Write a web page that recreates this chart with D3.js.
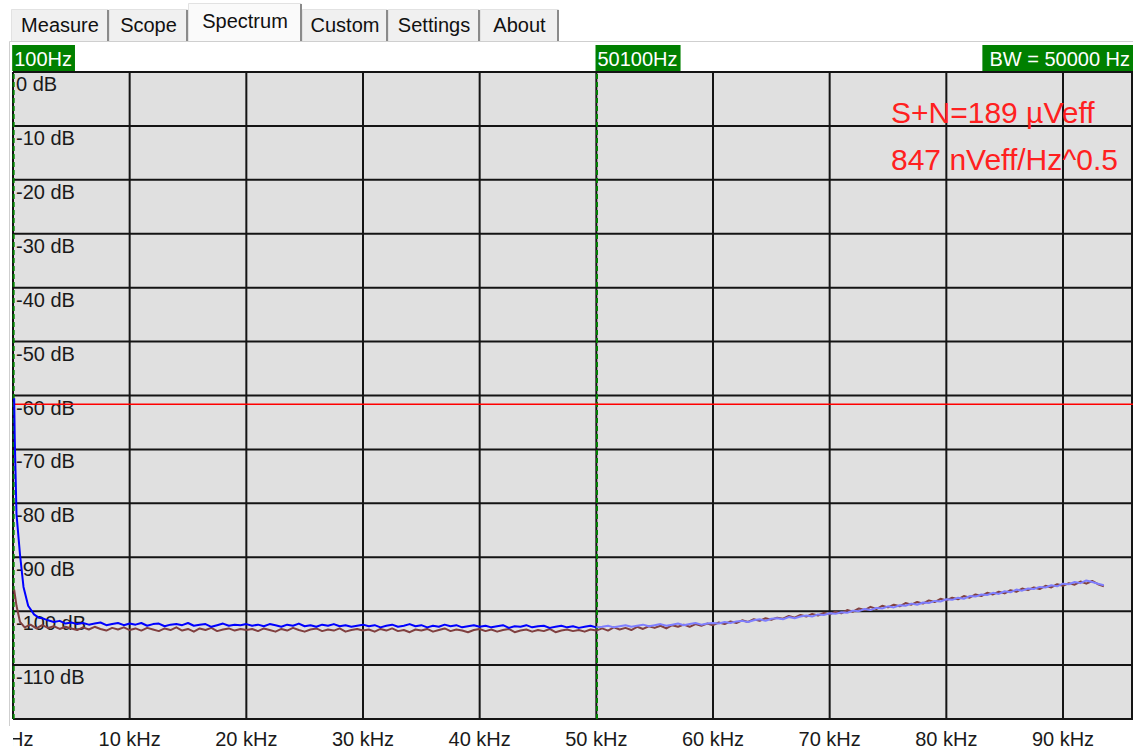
<!DOCTYPE html>
<html>
<head>
<meta charset="utf-8">
<script src="https://cdn.jsdelivr.net/npm/d3@7"></script>
<style>
  html, body { margin: 0; padding: 0; background: #fff; }
  svg { display: block; font-family: "Liberation Sans", Arial, sans-serif; }
</style>
</head>
<body>
<div id="chart"></div>
<script>
'use strict';

// tabs of the analyser window
const tabNames = ['Measure', 'Scope', 'Spectrum', 'Custom', 'Settings', 'About'];
const activeTab = 'Spectrum';

// axes
const xTickKHz = [0, 10, 20, 30, 40, 50, 60, 70, 80, 90];
const xTickLabels = ['0 Hz', '10 kHz', '20 kHz', '30 kHz', '40 kHz', '50 kHz', '60 kHz', '70 kHz', '80 kHz', '90 kHz'];
const yTickDb = [0, -10, -20, -30, -40, -50, -60, -70, -80, -90, -100, -110];

// cursors / readouts
const cursorHz = [100, 50100];
const cursorLabels = ['100Hz', '50100Hz'];
const bandwidthLabel = 'BW = 50000 Hz';
const refLevelDb = -61.6;
const readouts = ['S+N=189 \u00b5Veff', '847 nVeff/Hz^0.5'];

// low-frequency start of each trace (kHz, dB)
const blueHeadKHz = [0.1, 0.15, 0.3, 0.6, 0.9, 1.3, 1.8, 2.2];
const blueHeadDb = [-60.5, -68, -82, -89.5, -95.5, -99, -100.6, -101.2];
const brownHeadKHz = [0.1, 0.3, 0.6, 1.0, 1.5, 2.0];
const brownHeadDb = [-96, -99, -102, -103, -102.5, -103.2];

// spectrum bins from 2.5 kHz, every 0.5 kHz, up to 93.5 kHz
const binStartKHz = 2.5, binStepKHz = 0.5;
const blueDb = [
  -101.3,-101.7,-102.0,-101.8,-102.3,-102.1,-102.4,-102.2,-102.5,-102.3,-102.1,-102.6,-102.4,-102.2,-102.6,-102.3,
  -102.5,-102.2,-102.7,-102.4,-102.3,-102.8,-102.5,-102.4,-102.6,-102.2,-102.7,-102.5,-102.4,-102.9,-102.6,-102.3,-102.7,-102.5,-102.6,-102.4,
  -102.7,-102.5,-102.8,-102.4,-102.6,-102.9,-102.5,-102.7,-102.3,-102.8,-102.6,-102.9,-102.5,-102.7,-102.4,-102.8,-102.6,-102.9,-102.7,-102.5,
  -102.8,-102.6,-103.0,-102.7,-102.5,-102.9,-102.7,-102.4,-102.8,-102.6,-103.0,-102.7,-102.9,-102.5,-102.8,-102.6,-103.0,-102.8,-102.6,-102.9,
  -102.7,-103.0,-102.8,-102.6,-103.1,-102.8,-102.9,-102.6,-103.0,-102.8,-102.7,-103.1,-102.9,-102.7,-103.0,-102.8,-103.1,-102.9,-102.7,-103.0,
  -102.9,-102.7,-103.0,-102.8,-102.6,-102.9,-102.7,-102.5,-102.8,-102.6,-102.4,-102.7,-102.5,-102.3,-102.6,-102.4,-102.2,-102.5,-102.3,-102.2,
  -102.3,-102.0,-102.2,-101.9,-101.8,-102.0,-101.7,-101.5,-101.8,-101.4,-101.3,-101.5,-101.1,-101.3,-101.0,-100.8,-101.0,-100.6,-100.7,-100.4,
  -100.5,-100.2,-100.3,-99.9,-100.0,-99.6,-99.8,-99.4,-99.5,-99.1,-99.3,-98.9,-99.0,-98.6,-98.8,-98.4,-98.5,-98.1,-98.2,-97.8,
  -97.9,-97.5,-97.7,-97.2,-97.3,-96.9,-97.0,-96.6,-96.8,-96.3,-96.5,-96.0,-96.2,-95.8,-95.9,-95.5,-95.6,-95.2,-95.4,-94.9,
  -95.0,-94.6,-94.8,-94.3,-94.6,-94.9,-95.2
];
const brownDb = [
  -102.6,-103.1,-102.8,-103.3,-102.9,-103.2,-103.5,-103.0,-103.4,-102.9,-103.3,-103.6,-103.1,-103.4,-103.0,-103.5,
  -103.2,-103.6,-103.1,-103.4,-103.7,-103.2,-103.5,-103.0,-103.6,-103.3,-103.8,-103.2,-103.5,-103.1,-103.7,-103.4,-103.2,-103.6,-103.3,-103.5,
  -103.3,-103.7,-103.2,-103.5,-103.8,-103.3,-103.6,-103.1,-103.5,-103.8,-103.4,-103.2,-103.7,-103.4,-103.6,-103.2,-103.8,-103.5,-103.3,-103.6,
  -103.4,-103.8,-103.3,-103.6,-103.2,-103.7,-103.5,-103.9,-103.4,-103.6,-103.3,-103.8,-103.5,-103.2,-103.7,-103.4,-103.6,-103.9,-103.5,-103.3,
  -103.7,-103.4,-103.8,-103.5,-103.3,-103.9,-103.6,-103.4,-103.8,-103.5,-103.7,-103.3,-103.9,-103.6,-103.4,-103.7,-103.5,-103.8,-103.4,-103.6,
  -103.2,-103.6,-103.0,-103.4,-103.1,-103.5,-102.9,-103.3,-102.8,-103.1,-102.7,-103.2,-102.6,-102.9,-102.5,-102.9,-102.4,-102.7,-102.3,-102.6,
  -102.1,-102.4,-101.9,-102.2,-101.7,-102.0,-101.5,-101.8,-101.3,-101.6,-101.2,-101.4,-100.9,-101.2,-100.7,-101.0,-100.5,-100.8,-100.3,-100.6,
  -100.1,-100.4,-99.8,-100.1,-99.5,-99.8,-99.2,-99.6,-99.0,-99.3,-98.8,-99.1,-98.5,-98.8,-98.3,-98.6,-98.0,-98.3,-97.7,-98.0,
  -97.5,-97.8,-97.2,-97.5,-96.9,-97.2,-96.6,-96.9,-96.4,-96.7,-96.1,-96.4,-95.8,-96.1,-95.6,-95.9,-95.3,-95.6,-95.0,-95.3,
  -94.8,-95.1,-94.5,-94.9,-94.4,-95.0,-95.4
];

const width = 1133, height = 751;
const plot = {left: 13, right: 1133, top: 72, bottom: 719};

const svg = d3.select('#chart').append('svg')
  .attr('width', width)
  .attr('height', height)
  .attr('viewBox', '0 0 ' + width + ' ' + height);

// ---- tab strip ----
const tabBoxes = [[11, 109], [109, 188], [188, 302], [302, 388], [388, 480], [480, 559]];
const tabs = svg.append('g');
tabNames.forEach((name, i) => {
  const sel = name === activeTab;
  const x0 = tabBoxes[i][0], x1 = tabBoxes[i][1];
  const y0 = sel ? 3 : 9;
  tabs.append('rect')
    .attr('x', x0).attr('y', y0).attr('width', x1 - x0).attr('height', 41 - y0)
    .attr('fill', sel ? '#fafafa' : '#f0f0f0');
  tabs.append('path')
    .attr('d', 'M' + (x0 + 0.5) + ',41V' + (y0 + 0.5) + 'H' + (x1 - 1))
    .attr('fill', 'none').attr('stroke', '#e2e2e2');
  tabs.append('line')
    .attr('x1', x1 - 1).attr('x2', x1 - 1).attr('y1', y0 + 1).attr('y2', 41)
    .attr('stroke', '#8a8a8a').attr('stroke-width', 2);
  tabs.append('text')
    .attr('x', (x0 + x1) / 2).attr('y', sel ? 28 : 32)
    .attr('text-anchor', 'middle')
    .attr('font-size', 20).attr('fill', '#111')
    .text(name);
});

// panel border
svg.append('path')
  .attr('d', 'M9.5,726V41.5H1133')
  .attr('fill', 'none').attr('stroke', '#cfcfcf');

// ---- scales ----
const x = d3.scaleLinear().domain([0, 96000]).range([plot.left, plot.right]);
const y = d3.scaleLinear().domain([0, -120]).range([plot.top, plot.bottom]);

svg.append('defs').append('clipPath').attr('id', 'clip')
  .append('rect')
  .attr('x', plot.left).attr('y', plot.top)
  .attr('width', plot.right - plot.left).attr('height', plot.bottom - plot.top);

svg.append('defs').append('clipPath').attr('id', 'clipX')
  .append('rect')
  .attr('x', plot.left).attr('y', plot.bottom)
  .attr('width', width - plot.left).attr('height', height - plot.bottom);

// plot background
svg.append('rect')
  .attr('x', plot.left).attr('y', plot.top)
  .attr('width', plot.right - plot.left).attr('height', plot.bottom - plot.top)
  .attr('fill', '#e0e0e0');

// grid
const grid = svg.append('g').attr('stroke', '#141414').attr('stroke-width', 2);
grid.selectAll('.vx')
  .data(xTickKHz.concat([96]))
  .join('line')
  .attr('x1', d => Math.min(x(d * 1000), plot.right - 1))
  .attr('x2', d => Math.min(x(d * 1000), plot.right - 1))
  .attr('y1', plot.top).attr('y2', plot.bottom);
grid.selectAll('.hy')
  .data(yTickDb.concat([-120]))
  .join('line')
  .attr('x1', plot.left).attr('x2', plot.right)
  .attr('y1', d => y(d)).attr('y2', d => y(d));

// y labels, inside the plot just under each line
svg.append('g')
  .selectAll('text')
  .data(yTickDb)
  .join('text')
  .attr('x', plot.left + 3)
  .attr('y', d => y(d) + 19)
  .attr('font-size', 20).attr('fill', '#1a1a1a')
  .text(d => d + ' dB');

// x labels
svg.append('g').attr('clip-path', 'url(#clipX)')
  .selectAll('text')
  .data(xTickKHz)
  .join('text')
  .attr('x', d => x(d * 1000))
  .attr('y', 746)
  .attr('text-anchor', 'middle')
  .attr('font-size', 20).attr('fill', '#1a1a1a')
  .text((d, i) => xTickLabels[i]);

// cursors (green dashed)
svg.append('g')
  .selectAll('line')
  .data(cursorHz)
  .join('line')
  .attr('x1', d => x(d) - 0.5).attr('x2', d => x(d) - 0.5)
  .attr('y1', plot.top + 2).attr('y2', plot.bottom)
  .attr('stroke', '#008000').attr('stroke-width', 2)
  .attr('stroke-dasharray', '5,3');

// reference level
svg.append('line')
  .attr('x1', plot.left).attr('x2', plot.right)
  .attr('y1', y(refLevelDb)).attr('y2', y(refLevelDb))
  .attr('stroke', '#ff0000').attr('stroke-width', 1.5);

// ---- traces ----
function buildPoints(headKHz, headDb, binDb) {
  const pts = headKHz.map((f, i) => ({f: f * 1000, db: headDb[i]}));
  binDb.forEach((v, i) => pts.push({f: (binStartKHz + i * binStepKHz) * 1000, db: v}));
  return pts;
}
const bluePts = buildPoints(blueHeadKHz, blueHeadDb, blueDb);
const brownPts = buildPoints(brownHeadKHz, brownHeadDb, brownDb);

const line = d3.line().x(d => x(d.f)).y(d => y(d.db));
const traces = svg.append('g').attr('clip-path', 'url(#clip)')
  .attr('fill', 'none').attr('stroke-width', 2).attr('stroke-linejoin', 'round');

traces.append('path').attr('d', line(brownPts)).attr('stroke', '#804040');
traces.append('path').attr('d', line(bluePts.filter(d => d.f <= 50000))).attr('stroke', '#0000ff');
traces.append('path').attr('d', line(bluePts.filter(d => d.f >= 50000))).attr('stroke', '#7f7fff');

// ---- cursor boxes ----
function greenBox(xLeft, label, anchorRight) {
  const g = svg.append('g');
  const t = g.append('text')
    .attr('y', 66).attr('font-size', 20).attr('fill', '#ffffff')
    .text(label);
  const w = t.node().getComputedTextLength();
  const bx = anchorRight ? width - w - 10 : xLeft;
  g.insert('rect', 'text')
    .attr('x', bx).attr('y', 45)
    .attr('width', w + (anchorRight ? 10 : 5)).attr('height', 26)
    .attr('fill', '#008000');
  t.attr('x', bx + (anchorRight ? 7 : 2));
}
cursorHz.forEach((f, i) => greenBox(x(f) - 2, cursorLabels[i], false));
greenBox(0, bandwidthLabel, true);

// ---- readouts ----
svg.append('g')
  .selectAll('text')
  .data(readouts)
  .join('text')
  .attr('x', 891)
  .attr('y', (d, i) => 123 + i * 47)
  .attr('font-size', 30).attr('fill', '#ff2020')
  .text(d => d);
</script>
</body>
</html>
